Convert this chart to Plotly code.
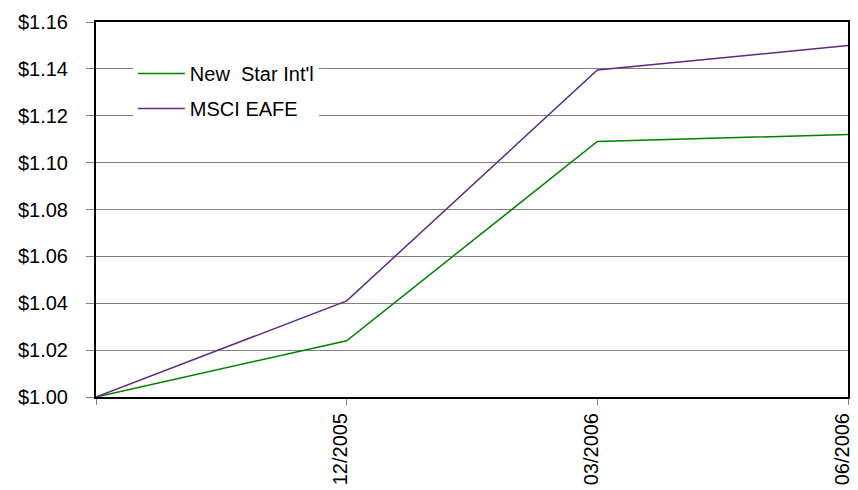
import plotly.graph_objects as go

periods = ["", "12/2005", "03/2006", "06/2006"]
new_star = [1.000, 1.024, 1.109, 1.112]
msci_eafe = [1.000, 1.041, 1.1395, 1.150]
y_ticks = [1.00, 1.02, 1.04, 1.06, 1.08, 1.10, 1.12, 1.14, 1.16]
y_tick_labels = ["$1.00", "$1.02", "$1.04", "$1.06", "$1.08", "$1.10", "$1.12", "$1.14", "$1.16"]

x_idx = list(range(len(periods)))

fig = go.Figure()
fig.add_trace(go.Scatter(x=x_idx, y=new_star, mode="lines", name="New  Star Int'l",
                         legendgroup="a",
                         line=dict(color="#008000", width=1.5)))
fig.add_trace(go.Scatter(x=x_idx, y=msci_eafe, mode="lines", name="MSCI EAFE",
                         legendgroup="b",
                         line=dict(color="#5E2A84", width=1.5)))

fig.update_layout(
    width=850, height=482,
    margin=dict(l=88, r=10, t=14, b=93),
    paper_bgcolor="white", plot_bgcolor="white",
    font=dict(family="Liberation Sans, Arial, sans-serif", size=20, color="black"),
    legend=dict(x=0.049, y=0.915, xanchor="left", yanchor="top",
                bgcolor="white", borderwidth=0, itemwidth=47,
                traceorder="grouped", tracegroupgap=6,
                font=dict(size=20)),
    showlegend=True,
)
fig.update_xaxes(
    range=[0, len(periods) - 1], tickvals=x_idx, ticktext=periods,
    tickangle=-90, showgrid=False, zeroline=False, automargin=False,
    ticklabeloverflow="allow", ticklabelshift=-6,
    showline=True, linecolor="black", linewidth=2, mirror=True,
    ticks="outside", ticklen=6, tickcolor="#808080",
)
fig.update_yaxes(
    range=[1.0, 1.16], tickvals=y_ticks, ticktext=y_tick_labels,
    showgrid=True, gridcolor="#808080", gridwidth=1, zeroline=False, automargin=False,
    ticklabeloverflow="allow",
    showline=True, linecolor="black", linewidth=2, mirror=True,
    ticks="outside", ticklen=8, tickcolor="#808080", ticklabelstandoff=14,
)

fig.write_html("out.html")
